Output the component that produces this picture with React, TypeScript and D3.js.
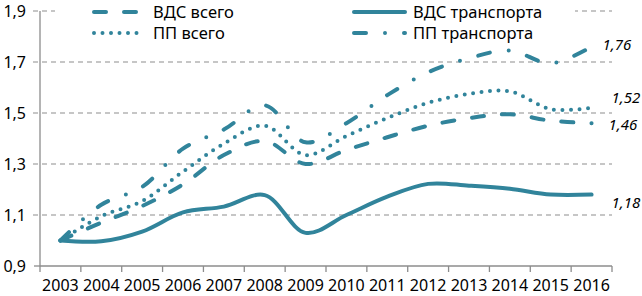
import * as d3 from "d3";

const width = 642;
const height = 296;

const years = ["2003", "2004", "2005", "2006", "2007", "2008", "2009", "2010", "2011", "2012", "2013", "2014", "2015", "2016"];
const vdsTotal = [1.0, 1.07, 1.135, 1.22, 1.335, 1.39, 1.3, 1.355, 1.405, 1.45, 1.48, 1.495, 1.47, 1.46];
const ppTotal = [1.0, 1.095, 1.155, 1.27, 1.38, 1.45, 1.335, 1.41, 1.48, 1.54, 1.575, 1.585, 1.515, 1.52];
const vdsTransport = [1.0, 0.997, 1.035, 1.11, 1.133, 1.178, 1.03, 1.1, 1.172, 1.222, 1.215, 1.203, 1.18, 1.18];
const ppTransport = [1.0, 1.14, 1.21, 1.36, 1.435, 1.53, 1.385, 1.46, 1.57, 1.66, 1.715, 1.745, 1.695, 1.76];
const yTicks = [0.9, 1.1, 1.3, 1.5, 1.7, 1.9];

const color = "#31849B";
const font = "'Noto Sans', sans-serif";

const fmt = (v: number) => v.toFixed(2).replace(".", ",");

// legend + end label placement per series
const series = [
  { name: "ВДС всего", values: vdsTotal, dash: "12,18", lx: 92, ly: 12, tb: 18, tx: 153, dx: 17, dy: 2 },
  { name: "ПП всего", values: ppTotal, dash: "0,8.5", lx: 92, ly: 33, tb: 39, tx: 153, dx: 20, dy: -10 },
  { name: "ВДС транспорта", values: vdsTransport, dash: "", lx: 352, ly: 12, tb: 18, tx: 413, dx: 20, dy: 8 },
  { name: "ПП транспорта", values: ppTransport, dash: "12,19,0,19", lx: 352, ly: 33, tb: 39, tx: 413, dx: 11, dy: -2 },
];

const App = () => {
  const x = d3.scaleBand().domain(years).range([40, 612]);
  const y = d3.scaleLinear().domain([0.9, 1.9]).range([266, 11]);
  const cx = (d: string) => (x(d) ?? 0) + x.bandwidth() / 2;

  const line = d3
    .line<number>()
    .x((d, i) => cx(years[i]))
    .y((d) => y(d))
    .curve(d3.curveCatmullRom.alpha(0.5));

  const boundaries = years.map((d) => x(d) ?? 0).concat([612]);

  return (
    <svg width={width} height={height} style={{ position: "absolute", left: 0, top: 0, background: "#fff" }} fontFamily={font}>
      {yTicks.map((t) => (
        <g key={t}>
          {t > 0.9 && (
            <line x1={33} x2={612} y1={y(t)} y2={y(t)} stroke="#b4b4b4" strokeWidth={1.3} strokeDasharray="5,4" />
          )}
          {t === 0.9 && <line x1={34} x2={40} y1={y(t)} y2={y(t)} stroke="#8c8c8c" strokeWidth={1.3} />}
          <text x={26} y={y(t)} dy="0.35em" textAnchor="end" fontSize={16} fill="#000">
            {t.toFixed(1).replace(".", ",")}
          </text>
        </g>
      ))}
      <line x1={40} x2={40} y1={11} y2={266} stroke="#8c8c8c" strokeWidth={1.3} />
      <line x1={40} x2={612} y1={266} y2={266} stroke="#8c8c8c" strokeWidth={1.3} />
      {boundaries.map((b, i) => (
        <line key={i} x1={b} x2={b} y1={266} y2={272} stroke="#8c8c8c" strokeWidth={1.3} />
      ))}
      {years.map((d) => (
        <text key={d} x={cx(d)} y={291} textAnchor="middle" fontSize={16} fill="#000">
          {d}
        </text>
      ))}

      {series.map((s) => (
        <path
          key={s.name}
          d={line(s.values) ?? ""}
          fill="none"
          stroke={color}
          strokeWidth={4}
          strokeLinecap="round"
          strokeDasharray={s.dash || undefined}
        />
      ))}

      {series.map((s) => {
        const last = s.values[s.values.length - 1];
        return (
          <text
            key={s.name + "-lbl"}
            x={cx(years[years.length - 1]) + s.dx}
            y={y(last) + s.dy}
            dy="0.35em"
            fontSize={15}
            fontStyle="italic"
            fill="#000"
          >
            {fmt(last)}
          </text>
        );
      })}

      <rect x={55} y={0} width={520} height={44} fill="#fff" />
      {series.map((s) => (
        <g key={s.name + "-leg"}>
          <line
            x1={s.lx + 2}
            x2={s.lx + 53}
            y1={s.ly}
            y2={s.ly}
            stroke={color}
            strokeWidth={4}
            strokeLinecap="round"
            strokeDasharray={s.dash || undefined}
          />
          <text x={s.tx} y={s.tb} fontSize={16.5} fill="#000">
            {s.name}
          </text>
        </g>
      ))}
    </svg>
  );
};

export default App;
